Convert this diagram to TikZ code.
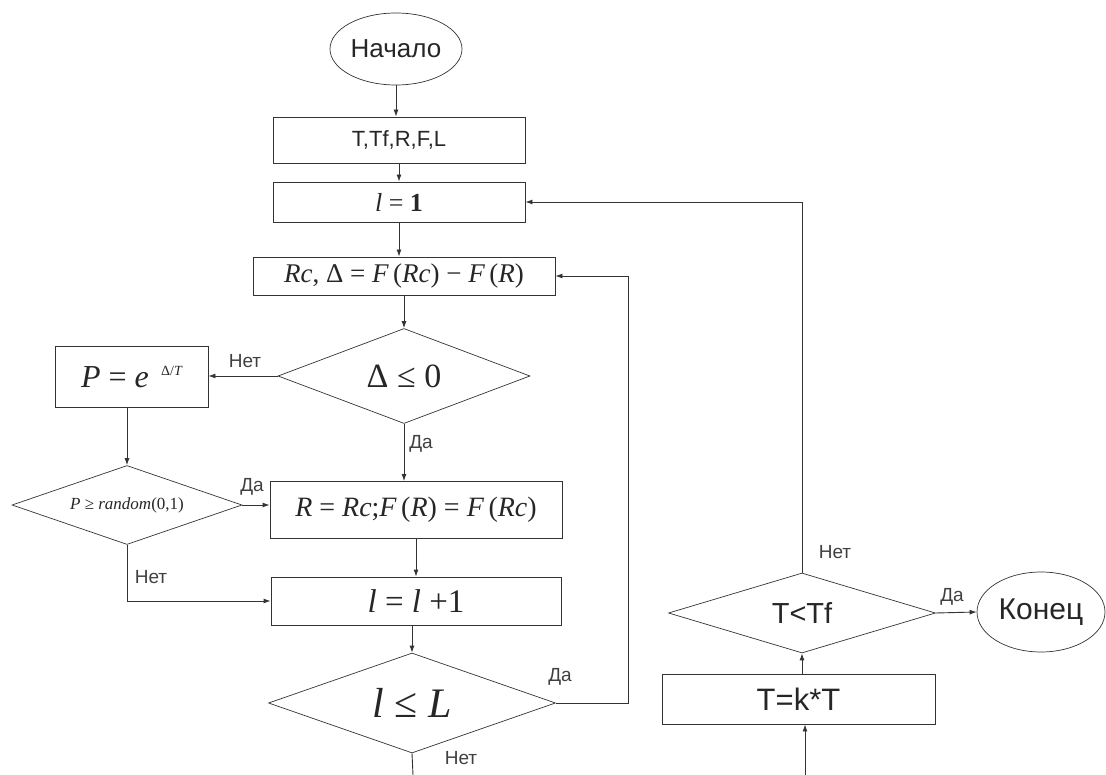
\documentclass[tikz,border=0pt]{standalone}
\usepackage{fontspec}
\setmainfont{Liberation Sans}
\newfontfamily\tms{Liberation Serif}
\usetikzlibrary{shapes.geometric,arrows.meta}
\newcommand{\vi}[1]{{\itshape #1}}
\begin{document}
\begin{tikzpicture}[x=1pt,y=-1pt,
  every node/.style={inner sep=0pt, text=black!85},
  box/.style={draw=black!80, line width=0.9pt, rectangle},
  dia/.style={draw=black!80, line width=0.7pt, diamond},
  term/.style={draw=black!80, line width=0.7pt, ellipse},
  arr/.style={draw=black!80, line width=0.9pt, -{Latex[length=7pt,width=5pt]}},
  ln/.style={draw=black!80, line width=0.9pt},
  lbl/.style={font=\fontsize{19}{19}\selectfont, text=black!75}]
\path[use as bounding box] (0,0) rectangle (1106,775);

% nodes
\node[term, minimum width=132, minimum height=72, font=\fontsize{26}{30}\selectfont] (start) at (396,49) {Начало};
\node[box, minimum width=252, minimum height=46, font=\fontsize{22}{26}\selectfont] (b1) at (399,140) {T,Tf,R,F,L};
\node[box, minimum width=252, minimum height=40, font=\tms\fontsize{26}{30}\selectfont] (b2) at (399,202) {\vi{l} = \textbf{1}};
\node[box, minimum width=302, minimum height=38, font=\tms\fontsize{27}{31}\selectfont] (b3) at (404,276) {\vi{Rc}, Δ = \vi{F}\,(\vi{Rc}) − \vi{F}\,(\vi{R})};
\node[dia, aspect=2.65, minimum width=252, minimum height=95, font=\tms\fontsize{34}{38}\selectfont] (d1) at (404,376) {Δ ≤ 0};
\node[box, minimum width=153, minimum height=61, font=\tms\fontsize{32}{36}\selectfont] (bP) at (131.5,377) {\vi{P} = \vi{e}\,\raisebox{12pt}{\fontsize{14}{14}\selectfont\ \ Δ/\vi{T}}};
\node[dia, aspect=2.9, minimum width=230, minimum height=79, font=\tms\fontsize{17}{20}\selectfont] (d2) at (127,505) {\vi{P} ≥ \vi{random}(0,1)};
\node[box, minimum width=292, minimum height=57, font=\tms\fontsize{28}{32}\selectfont] (bR) at (416,510) {\vi{R} = \vi{Rc};\vi{F}\,(\vi{R}) = \vi{F}\,(\vi{Rc})};
\node[box, minimum width=290, minimum height=48, font=\tms\fontsize{33}{37}\selectfont] (bl) at (416,601) {\vi{l} = \vi{l} +1};
\node[dia, aspect=2.87, minimum width=287, minimum height=100, font=\tms\fontsize{42}{46}\selectfont] (d3) at (412,703) {\vi{l} ≤ \vi{L}};
\node[dia, aspect=3.3, minimum width=267, minimum height=80, font=\fontsize{29}{33}\selectfont] (d4) at (802,613) {T<Tf};
\node[term, minimum width=128, minimum height=80, font=\fontsize{30}{34}\selectfont] (end) at (1041,612) {Конец};
\node[box, minimum width=273, minimum height=50, font=\fontsize{31}{35}\selectfont] (bT) at (798.5,699) {T=k*T};

\coordinate (r1) at (628,703);
\coordinate (exit1) at (413,775);
\coordinate (in2) at (805,775);

% connectors
\draw[arr] (start.south) -- (start.south |- b1.north);
\draw[arr] (b1.south) -- (b1.south |- b2.north);
\draw[arr] (b2.south) -- (b2.south |- b3.north);
\draw[arr] (b3.south) -- (d1.north);
\draw[arr] (d1.west) -- (d1.west -| bP.east);
\draw[arr] (bP.south -| d2.north) -- (d2.north);
\draw[arr] (d2.east) -- (d2.east -| bR.west);
\draw[arr] (d1.south) -- (d1.south |- bR.north);
\draw[arr] (bR.south) -- (bR.south |- bl.north);
\draw[arr] (d2.south) |- (bl.west);
\draw[arr] (bl.south -| d3.north) -- (d3.north);
\draw[arr] (d3.east) -- (r1) |- (b3.east);
\draw[ln] (d3.south) -- (exit1);
\draw[arr] (in2) -- (in2 |- bT.south);
\draw[arr] (bT.north -| d4.south) -- (d4.south);
\draw[arr] (d4.north) |- (b2.east);
\draw[arr] (d4.east) -- (end.west);

% labels
\node[lbl] (l1) at (245,361) {Нет};
\node[lbl] (l2) at (421,444) {Да};
\node[lbl] (l3) at (252,487) {Да};
\node[lbl] (l4) at (151,577) {Нет};
\node[lbl] (l5) at (560,677) {Да};
\node[lbl] (l6) at (461,758) {Нет};
\node[lbl] (l7) at (835,552) {Нет};
\node[lbl] (l8) at (952,597) {Да};
\end{tikzpicture}
\end{document}
